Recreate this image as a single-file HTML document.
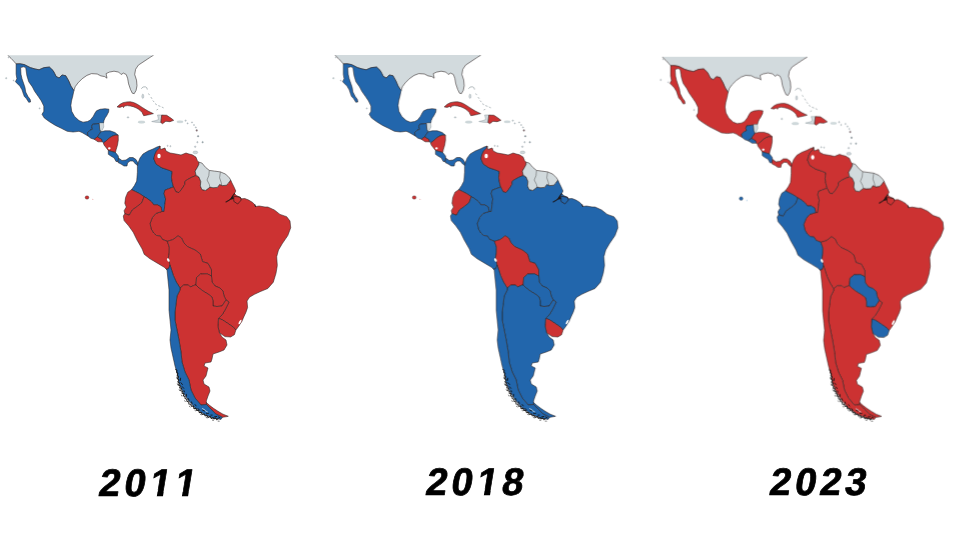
<!DOCTYPE html>
<html><head><meta charset="utf-8"><title>Latin America 2011 2018 2023</title>
<style>
html,body{margin:0;padding:0;background:#fff;}
body{width:960px;height:540px;overflow:hidden;position:relative;}
svg{position:absolute;left:0;top:0;}
</style></head><body>
<svg width="960" height="540" viewBox="0 0 960 540">
<defs><filter id="b" x="-2%" y="-2%" width="104%" height="104%"><feGaussianBlur stdDeviation="0.35"/></filter><clipPath id="cl"><rect x="-10" y="55.2" width="330" height="400"/></clipPath></defs>
<g filter="url(#b)">
<g transform="translate(0,0) scale(1,1)" clip-path="url(#cl)" stroke="#2a2020" stroke-opacity="0.85" stroke-width="0.65" stroke-linejoin="round">
<polygon fill="#d2dadd" points="3,50 158,50 153.4,55.3 149.7,57.6 144,61.4 138.4,65.1 135.6,69.3 134.7,74.5 136.5,80.1 137,85.7 136.1,90.4 134.2,93.7 132.3,93.2 130.5,89.5 128.6,83.9 127.6,78.2 126.2,74.5 123.4,73.1 121.1,74.5 118.7,72.1 114,71.2 109.4,72.1 106.1,73.6 107,78.2 104.7,76.6 100.9,75.9 97.2,74 91.6,73.6 86.9,75.4 82.2,78.7 78,82.9 75.2,86.7 73.9,90.6 70.9,86.1 68.7,80.9 65.7,75.7 62,75 59.1,78 56.1,76.5 54.8,73.8 53.1,70.6 49.4,67.1 44.3,67.6 41.7,68.6 39.1,69.8 35,69 30.2,67.6 24.3,64.6 20,63.8 16.1,63.9 14.2,61.7 11,58.3 7.5,55"/>
<polygon fill="#2266ac" points="16.1,63.9 20,63.8 24.3,64.6 30.2,67.6 35,69 39.1,69.8 41.7,68.6 44.3,67.6 49.4,67.1 53.1,70.6 54.8,73.8 56.1,76.5 59.1,78 62,75 65.7,75.7 68.7,80.9 70.9,86.1 73.9,90.6 72.8,96 71.5,101 70.9,105.4 71.7,111.3 74.6,116.5 79,120.6 83,122.2 87.5,121.5 90.4,120 93.3,116.3 95,113 96.5,110.8 100,109.3 105,108.7 108.9,109.2 108.6,112 106.5,116 105.2,117.8 104,120.5 103.5,123 100,123 99.2,123.5 92.5,124.3 91.7,126.8 92.5,129.3 90,130.2 87.5,132.7 88,136 85,134.3 82,132.5 79,131.3 73.1,132 67.2,131.3 61.3,128.3 55.4,125.4 49.4,121.7 44.3,118 42,114.3 43.8,111.3 43.8,106.1 41.3,100.9 38.3,96.5 34.6,91.3 32.4,86.9 28.7,81.7 26.9,75.7 25.7,67.6 23.5,66.8 20.6,67.6 21,74.3 22,78.7 23.5,83.1 25,87.6 25.7,92 28,96.5 30.2,99.4 30.6,102 28.7,102.3 26.5,98.7 24.3,96.5 23.5,94.3 22,89.8 19.8,86.1 17.6,83.9 15.4,81.7 16.9,78.7 16.1,74.3"/>
<polygon fill="#d2dadd" stroke="#7f8c92" stroke-width="0.5" points="100,123 103.5,123 103.8,127 102,130.5 100.8,131.8 99.7,129.3 99.2,123.5"/>
<polygon fill="#2266ac" points="92.5,124.3 99.2,123.5 99.7,129.3 100.8,131.8 99.2,134.3 97.5,136.8 94.2,139.3 90.8,138.2 88,136 87.5,132.7 90,130.2 92.5,129.3 91.7,126.8"/>
<polygon fill="#cc3333" points="97.5,136.8 101.7,139.3 102.5,141.8 98,141.8 94.2,139.3"/>
<polygon fill="#2266ac" points="100.8,131.8 105,130.8 110,130.8 115,132.5 118.2,135.2 115,135.2 112,136.3 109,138.3 106,141 103.5,143 102.5,141.8 101.7,139.3 97.5,136.8 99.2,134.3"/>
<polygon fill="#cc3333" points="103.5,143 106,141 109,138.3 112,136.3 115,135.2 118.2,135.2 118.3,140 117.5,145 116,150 115.5,152.5 111.7,151.5 108.3,150.5 106,147.5 104,145"/>
<polygon fill="#2266ac" points="108.3,150.5 111.7,151.5 115.5,152.5 118.3,156 118.5,159 118,161.5 116,161.5 114.2,158 110.8,156 108.3,154.3"/>
<polygon fill="#2266ac" points="118.5,158 122,160.5 126,160 129.5,157.5 133,157.5 136,159.5 138,163 137.5,165.5 135.5,164 133,161 130,161 127.5,163 127,166 124,166 121,164 118,162.5"/>
<polygon fill="#2266ac" points="138,163 140,158 143,154 148,151 153,149 157,147 160,146 159,148.5 156.5,151 154.6,155 153.9,158.9 156,164 161.9,167.8 168.5,170 172.2,171.5 171.5,177.4 172.2,181.9 173.5,187 168.5,188.8 164.8,190.3 164.1,193.7 165.6,198.9 164.8,204.8 164.1,211.5 161.9,211.5 161.1,207 157.4,204.8 153.7,204.8 151.5,201.9 147.8,198.9 144.1,196.7 139.6,193.7 135.2,191.5 131.5,189.7 134.4,185.6 136.7,181.1 137.4,172.2 137.4,166.3"/>
<polygon fill="#cc3333" points="160,146 160.5,149.5 165,148 166,151 170,153 176,154 181,155 186,153 189,154 192.2,154.8 195.9,157 197.4,160.7 198.9,162.2 198.9,164.4 197.4,167.4 195.2,171.1 195.9,174.8 196,175.6 192.2,177 187.8,179.3 184.8,181.5 184.8,184.4 181.9,188.9 178.9,192.6 175.9,191.9 173.5,187 172.2,181.9 171.5,177.4 172.2,171.5 168.5,170 161.9,167.8 156,164 153.9,158.9 154.6,155 156.5,151 159,148.5"/>
<polygon fill="#cc3333" points="230.7,180 232,183 234,187 235.8,191 234.5,193.6 236.4,195.6 240.3,197.3 241.6,198.8 244.8,198.5 248.7,200.1 252.6,202.4 254.6,204.6 255.5,206.5 259.1,206 265,207 267.8,207 274.4,210 280,214.4 286.7,216.7 290,221 290.7,227.8 287.8,235.6 282.5,243.3 278.5,250 276.7,256.7 277.3,265.6 276,273.3 273.3,282.2 267.8,288.5 261,291.3 254.5,294.3 249.5,297.2 247,301 247.6,307.5 246,312.2 243.9,316.7 241.8,321.5 238.4,326.7 235.9,330 233.4,327.2 227.8,323.4 222.2,319.7 218.4,318.4 222,315 225,310 227,306 229,302 226,300 224,296 223,291 220,288 215,286 212,282 211.5,276 211.5,270 208,263.4 202.5,261.6 200.3,254 195,250 187.5,246.6 183.8,242.8 181.5,238 178,235.8 173,239.6 167.3,241.3 162.3,239.4 160.4,236.1 156.5,235.5 153.5,233 151.2,229 150,223.5 152.4,217.5 155.9,213.4 161.9,211.5 164.1,211.5 164.8,204.8 165.6,198.9 164.1,193.7 164.8,190.3 168.5,188.8 173.5,187 175.9,191.9 178.9,192.6 181.9,188.9 184.8,184.4 184.8,181.5 187.8,179.3 192.2,177 196,175.6 198.9,177 200.8,181.5 200.4,185.9 201.9,189.6 205.6,190.4 210,187.1 213,187.7 217.4,187.4 219.6,184.4 222.6,185.6 226.3,185.2 228.5,183 230.7,180"/>
<polygon fill="#d2dadd" points="198.9,162.2 201.9,163 205.6,167.4 209.3,170.4 214.4,171.1 220.4,171.9 225.6,174.1 229.3,177.8 230.7,180 228.5,183 226.3,185.2 222.6,185.6 219.6,184.4 217.4,187.4 213,187.7 210,187.1 205.6,190.4 201.9,189.6 200.4,185.9 200.8,181.5 198.9,177 195.9,174.8 195.2,171.1 197.4,167.4 198.9,164.4"/>
<polygon fill="#cc3333" points="131.5,189.7 135.2,191.5 139.6,193.7 144.1,196.7 143.3,198.9 141.9,202.6 137.4,206.3 132.2,210 129.3,215.2 124.8,213.7 124.1,210.7 126.3,207 124.8,203.3 125.6,197.4 127.8,192.2"/>
<polygon fill="#cc3333" points="124.8,213.7 129.3,215.2 132.2,210 137.4,206.3 141.9,202.6 143.3,198.9 144.1,196.7 147.8,198.9 151.5,201.9 153.7,204.8 157.4,204.8 161.1,207 161.9,211.5 155.9,213.4 152.4,217.5 150,223.5 151.2,229 153.5,233 156.5,235.5 160.4,236.1 162.3,239.4 167.3,241.3 169.3,247 169.2,253 168.4,257.8 170,265 168.5,268.8 166.2,269.2 164.3,267.3 157.8,263.4 150,258.8 144.2,254.3 142.2,249.1 137,240 133.2,232.2 128.6,225.8 124.1,220.6 123.3,216"/>
<polygon fill="#cc3333" points="178,235.8 173,239.6 167.3,241.3 169.3,247 169.2,253 168.4,257.8 170,265 173.4,275.6 176.3,282 180,288 183.8,285 188.4,285 190.3,287 195,285 196,285 196.5,277.5 200.6,274 207.2,273.8 211.5,276 211.5,270 208,263.4 202.5,261.6 200.3,254 195,250 187.5,246.6 183.8,242.8 181.5,238"/>
<polygon fill="#cc3333" points="196,285 196.5,277.5 200.6,274 207.2,273.8 211.5,276 212,282 215,286 220,288 223,291 224,296 226,300 224,303 222,306 217,306.5 213,306 213,301 212,297 208,294 203,291 199,288"/>
<polygon fill="#cc3333" points="218.4,318.4 222.2,319.7 227.8,323.4 233.4,327.2 235.9,330 234.4,334.7 230.6,337 225,336.6 219.4,332.8 217.9,326.3"/>
<polygon fill="#cc3333" points="180,288 183.8,285 188.4,285 190.3,287 195,285 196,285 199,288 203,291 208,294 212,297 213,301 213,306 217,306.5 222,306 224,303 226,300 229,302 227,306 225,310 222,315 218.4,318.4 217.9,326.3 219.4,332.8 222,337 226,340 227,345 224,350 219,352 213,354 212,359 211,362 205,363 204,366 208,368 207,372 206,376 203,380 204,384 209,387 210,391 208,396 206.3,401 206.5,404.5 201,405 195,398 191,390 189,380 185,372 182,362 181,352 179,340 177,330 175,320 175,312 176,304 177,296 180,290"/>
<polygon fill="#cc3333" points="206.3,402.5 209.5,405.3 213.5,408.3 218,411.3 223,414.2 228.3,416.3 224.5,417 222.4,417.3 215.9,414 210.7,408.9 206.5,404.5"/>
<polygon fill="#2266ac" points="166.2,269.2 168.5,268.8 170,265 173.4,275.6 176.3,282 180,288 180,290 177,296 176,304 175,312 175,320 177,330 179,340 181,352 182,362 185,372 189,380 191,390 195,398 201,405 206.5,404.5 210.7,408.9 215.9,414 222.4,417.3 221,419.4 213,418 203.5,413.8 195,407.8 188,400 183,392 179,383 177.4,374 175,366 173,357 171,348 170,340 171,330 170,320 169,310 169,300 169,290 168,280 167,270"/>
<polygon fill="#cc3333" points="117,106.9 120,104.3 123,102.7 127,101.9 130.4,101.8 133.5,102.5 136.3,103.7 139.3,105.5 142.2,107.4 145.2,109.3 148.1,111.1 151,112.5 153.4,113.6 149.6,114.6 146.5,115.2 143.7,115.7 142.8,114 142.2,112.6 140.5,110.8 138.5,109.2 136,107.8 133.3,106.7 130.4,106 127.4,105.6 124.5,106 123.5,107.6 122.3,106.4 120,107.4"/>
<polygon fill="#d2dadd" stroke="#7f8c92" stroke-width="0.5" points="157.5,115 161.7,115 161.3,118.3 160.8,122.5 156,122.3 151.7,121.5 156,120.5 158.5,119.5 158,117"/>
<polygon fill="#cc3333" points="161.7,115 166.7,115.3 170.8,118 173.7,120.3 170,121.7 165.8,121.3 162.5,123.7 160.8,122.5 161.3,118.3"/>

<ellipse cx="159" cy="156" rx="1.7" ry="2.2" fill="#fff" stroke="none"/>
<ellipse cx="168.3" cy="260" rx="1.2" ry="1.9" fill="#f4f4f4" stroke="none" transform="rotate(-28 168.3 260)"/>
<ellipse cx="109.3" cy="148.3" rx="1.3" ry="1.1" fill="#fff" stroke="none"/>
<ellipse cx="240" cy="322" rx="0.9" ry="2.6" fill="#fff" stroke="none" transform="rotate(30 240 322)"/>
<ellipse cx="141.5" cy="122.1" rx="3.5" ry="1.2" fill="#d2dbde" stroke="#9aa" stroke-width="0.3"/>
<ellipse cx="180" cy="121.8" rx="3.2" ry="1" fill="#d2dbde" stroke="#9aa" stroke-width="0.3"/>
<path d="M209.3,170.4 L208.8,175.6 L207,180 L209.3,184.4 L209.8,187.1 M220.4,171.9 L219.6,177.8 L221.1,182.2 L221.8,185.4" fill="none" stroke="#444" stroke-width="0.55"/>
<path d="M226,202 L229,200.2 L231.2,198.6 L232.5,196.2 L234.5,193.6" fill="none" stroke="#1c1414" stroke-width="1.1" stroke-linecap="round"/>
<path d="M230.5,199.3 L232.8,196 L233.4,198.8 Z" fill="#1c1414" stroke="#1c1414" stroke-width="0.8"/>
<path d="M233.8,196.2 L240.3,197.3 L241.3,200 L237.7,204 L233.8,201.4 Z" fill="none" stroke="#2a1a1a" stroke-width="0.8" stroke-opacity="0.85"/>
<path d="M254.8,204.3 l0.8,2.6" fill="none" stroke="#1c1414" stroke-width="1"/>
<path d="M175.4,369.2 L177.0,370.4 L176.6,372.2 L177.9,373.6 L177.2,375.3 L178.6,376.8 L177.3,378.6 L179.1,380.0 L177.8,381.8 L179.5,383.1 L178.5,385.0 L180.2,386.0 L179.6,387.8 L181.6,388.6 L180.6,390.6 L182.4,391.5 L182.1,393.2 L184.0,393.8 L183.3,395.7 L184.9,396.4 L185.1,398.4 L186.7,399.4 L187.0,401.3 L188.8,401.9 L188.9,404.0 L190.9,404.3 L191.4,406.3 L193.6,406.1 L193.8,408.5 L196.0,408.3 L196.6,410.4 L198.6,410.5 L199.3,412.4 L201.3,412.4 L202.0,414.4 L204.1,414.0 L205.1,415.7 L207.0,415.5 L208.1,417.4 L210.2,416.6 L211.4,418.5 L213.0,417.6 L214.1,418.9 L215.6,418.0 L216.8,419.7 L218.4,418.3 " fill="none" stroke="#121212" stroke-width="1.05" stroke-opacity="0.9" stroke-linejoin="round"/>
<path d="M180.6,378.2 l-0.2,2.2 M180.9,382.7 l1.5,1.8 M182.3,386.7 l1.4,1.6 M184.0,390.7 l0.4,1.2 M186.3,394.3 l0.2,1.9 M188.1,398.4 l1.0,1.8 M191.4,401.8 l0.7,1.6 M195.0,404.5 l1.1,1.4 M198.0,408.5 l1.4,1.5 M202.7,410.2 l2.0,0.8 M206.4,413.3 l2.0,0.1 M210.8,415.1 l1.4,-0.0 M214.6,416.8 l2.1,-0.3 M218.5,417.0 l1.5,0.8 " fill="none" stroke="#121212" stroke-width="1.0" stroke-opacity="0.85" stroke-linecap="round"/>
<path d="M176.7,377.1 l0.2,1.1 M177.4,383.8 l0.3,1.1 M179.2,389.6 l0.4,1.0 M181.4,395.1 l0.5,1.0 M184.7,400.7 l0.6,0.9 M189.3,406.2 l0.8,0.7 M194.7,410.1 l0.9,0.7 M200.2,414.1 l0.9,0.6 M206.2,417.5 l1.0,0.4 M212.4,420.1 l1.1,0.2 M218.1,421.1 l1.1,0.1 " fill="none" stroke="#222" stroke-width="0.8" stroke-opacity="0.75" stroke-linecap="round"/>
<path d="M202.5,408.6 l2.4,1.4 M205.4,410.8 l2,1" fill="none" stroke="#dfe8ee" stroke-width="0.9" stroke-linecap="round"/>
<g fill="#cfd8db" stroke="#77848a" stroke-width="0.35" stroke-opacity="0.8">
<path d="M141.3,88.8 q1.2,-2.6 4,-2 q2.2,0.7 2,2.8" fill="none" stroke-width="0.7"/>
<ellipse cx="142.8" cy="96.3" rx="1" ry="2.2"/>
<path d="M148.5,93.5 l1,1.6 M150.8,97 l1.2,1.8 M152.8,100.5 l1.4,1.6 M155,103.6 l1.8,1.2 M158.2,105.6 l2.2,0.8 M161.8,107 l1.8,0.9 M156.5,110 l1.6,-0.8" fill="none" stroke-width="0.7"/>
<ellipse cx="128" cy="117.4" rx="0.9" ry="0.7"/>
<circle cx="185.6" cy="120.6" r="0.7"/><circle cx="187.6" cy="123.4" r="0.6"/>
<circle cx="192" cy="122.4" r="0.6"/><circle cx="194" cy="125" r="0.6"/><circle cx="195.8" cy="127.4" r="0.6"/>
<circle cx="196.7" cy="130.4" r="0.9" fill="#8f6f72"/><circle cx="198.1" cy="136.3" r="0.8" fill="#7f8d93"/><circle cx="197.4" cy="142.2" r="0.7"/><circle cx="202.6" cy="142.2" r="0.8" fill="#9aa7ad"/><circle cx="195.2" cy="146.7" r="0.8"/>
<ellipse cx="195.4" cy="152.4" rx="2.4" ry="1.4"/>
<circle cx="167.6" cy="145.8" r="0.6"/><circle cx="170.4" cy="146.2" r="0.6"/>
<circle cx="6.2" cy="78.2" r="0.7"/><circle cx="39.6" cy="108.4" r="0.6"/><circle cx="8.5" cy="57.5" r="0.5"/><circle cx="13.5" cy="80.5" r="0.5"/>
</g>
<ellipse cx="87" cy="197.5" rx="1.9" ry="1.7" fill="#cc3333" stroke="#333" stroke-width="0.4"/><circle cx="92.8" cy="199.4" r="0.6" fill="#cc3333" fill-opacity="0.35" stroke="none"/>
</g>
<g transform="translate(327.2,0) scale(1,1)" clip-path="url(#cl)" stroke="#2a2020" stroke-opacity="0.85" stroke-width="0.65" stroke-linejoin="round">
<polygon fill="#d2dadd" points="3,50 158,50 153.4,55.3 149.7,57.6 144,61.4 138.4,65.1 135.6,69.3 134.7,74.5 136.5,80.1 137,85.7 136.1,90.4 134.2,93.7 132.3,93.2 130.5,89.5 128.6,83.9 127.6,78.2 126.2,74.5 123.4,73.1 121.1,74.5 118.7,72.1 114,71.2 109.4,72.1 106.1,73.6 107,78.2 104.7,76.6 100.9,75.9 97.2,74 91.6,73.6 86.9,75.4 82.2,78.7 78,82.9 75.2,86.7 73.9,90.6 70.9,86.1 68.7,80.9 65.7,75.7 62,75 59.1,78 56.1,76.5 54.8,73.8 53.1,70.6 49.4,67.1 44.3,67.6 41.7,68.6 39.1,69.8 35,69 30.2,67.6 24.3,64.6 20,63.8 16.1,63.9 14.2,61.7 11,58.3 7.5,55"/>
<polygon fill="#2266ac" points="16.1,63.9 20,63.8 24.3,64.6 30.2,67.6 35,69 39.1,69.8 41.7,68.6 44.3,67.6 49.4,67.1 53.1,70.6 54.8,73.8 56.1,76.5 59.1,78 62,75 65.7,75.7 68.7,80.9 70.9,86.1 73.9,90.6 72.8,96 71.5,101 70.9,105.4 71.7,111.3 74.6,116.5 79,120.6 83,122.2 87.5,121.5 90.4,120 93.3,116.3 95,113 96.5,110.8 100,109.3 105,108.7 108.9,109.2 108.6,112 106.5,116 105.2,117.8 104,120.5 103.5,123 100,123 99.2,123.5 92.5,124.3 91.7,126.8 92.5,129.3 90,130.2 87.5,132.7 88,136 85,134.3 82,132.5 79,131.3 73.1,132 67.2,131.3 61.3,128.3 55.4,125.4 49.4,121.7 44.3,118 42,114.3 43.8,111.3 43.8,106.1 41.3,100.9 38.3,96.5 34.6,91.3 32.4,86.9 28.7,81.7 26.9,75.7 25.7,67.6 23.5,66.8 20.6,67.6 21,74.3 22,78.7 23.5,83.1 25,87.6 25.7,92 28,96.5 30.2,99.4 30.6,102 28.7,102.3 26.5,98.7 24.3,96.5 23.5,94.3 22,89.8 19.8,86.1 17.6,83.9 15.4,81.7 16.9,78.7 16.1,74.3"/>
<polygon fill="#d2dadd" stroke="#7f8c92" stroke-width="0.5" points="100,123 103.5,123 103.8,127 102,130.5 100.8,131.8 99.7,129.3 99.2,123.5"/>
<polygon fill="#2266ac" points="92.5,124.3 99.2,123.5 99.7,129.3 100.8,131.8 99.2,134.3 97.5,136.8 94.2,139.3 90.8,138.2 88,136 87.5,132.7 90,130.2 92.5,129.3 91.7,126.8"/>
<polygon fill="#cc3333" points="97.5,136.8 101.7,139.3 102.5,141.8 98,141.8 94.2,139.3"/>
<polygon fill="#2266ac" points="100.8,131.8 105,130.8 110,130.8 115,132.5 118.2,135.2 115,135.2 112,136.3 109,138.3 106,141 103.5,143 102.5,141.8 101.7,139.3 97.5,136.8 99.2,134.3"/>
<polygon fill="#cc3333" points="103.5,143 106,141 109,138.3 112,136.3 115,135.2 118.2,135.2 118.3,140 117.5,145 116,150 115.5,152.5 111.7,151.5 108.3,150.5 106,147.5 104,145"/>
<polygon fill="#2266ac" points="108.3,150.5 111.7,151.5 115.5,152.5 118.3,156 118.5,159 118,161.5 116,161.5 114.2,158 110.8,156 108.3,154.3"/>
<polygon fill="#2266ac" points="118.5,158 122,160.5 126,160 129.5,157.5 133,157.5 136,159.5 138,163 137.5,165.5 135.5,164 133,161 130,161 127.5,163 127,166 124,166 121,164 118,162.5"/>
<polygon fill="#2266ac" points="138,163 140,158 143,154 148,151 153,149 157,147 160,146 159,148.5 156.5,151 154.6,155 153.9,158.9 156,164 161.9,167.8 168.5,170 172.2,171.5 171.5,177.4 172.2,181.9 173.5,187 168.5,188.8 164.8,190.3 164.1,193.7 165.6,198.9 164.8,204.8 164.1,211.5 161.9,211.5 161.1,207 157.4,204.8 153.7,204.8 151.5,201.9 147.8,198.9 144.1,196.7 139.6,193.7 135.2,191.5 131.5,189.7 134.4,185.6 136.7,181.1 137.4,172.2 137.4,166.3"/>
<polygon fill="#cc3333" points="160,146 160.5,149.5 165,148 166,151 170,153 176,154 181,155 186,153 189,154 192.2,154.8 195.9,157 197.4,160.7 198.9,162.2 198.9,164.4 197.4,167.4 195.2,171.1 195.9,174.8 196,175.6 192.2,177 187.8,179.3 184.8,181.5 184.8,184.4 181.9,188.9 178.9,192.6 175.9,191.9 173.5,187 172.2,181.9 171.5,177.4 172.2,171.5 168.5,170 161.9,167.8 156,164 153.9,158.9 154.6,155 156.5,151 159,148.5"/>
<polygon fill="#2266ac" points="230.7,180 232,183 234,187 235.8,191 234.5,193.6 236.4,195.6 240.3,197.3 241.6,198.8 244.8,198.5 248.7,200.1 252.6,202.4 254.6,204.6 255.5,206.5 259.1,206 265,207 267.8,207 274.4,210 280,214.4 286.7,216.7 290,221 290.7,227.8 287.8,235.6 282.5,243.3 278.5,250 276.7,256.7 277.3,265.6 276,273.3 273.3,282.2 267.8,288.5 261,291.3 254.5,294.3 249.5,297.2 247,301 247.6,307.5 246,312.2 243.9,316.7 241.8,321.5 238.4,326.7 235.9,330 233.4,327.2 227.8,323.4 222.2,319.7 218.4,318.4 222,315 225,310 227,306 229,302 226,300 224,296 223,291 220,288 215,286 212,282 211.5,276 211.5,270 208,263.4 202.5,261.6 200.3,254 195,250 187.5,246.6 183.8,242.8 181.5,238 178,235.8 173,239.6 167.3,241.3 162.3,239.4 160.4,236.1 156.5,235.5 153.5,233 151.2,229 150,223.5 152.4,217.5 155.9,213.4 161.9,211.5 164.1,211.5 164.8,204.8 165.6,198.9 164.1,193.7 164.8,190.3 168.5,188.8 173.5,187 175.9,191.9 178.9,192.6 181.9,188.9 184.8,184.4 184.8,181.5 187.8,179.3 192.2,177 196,175.6 198.9,177 200.8,181.5 200.4,185.9 201.9,189.6 205.6,190.4 210,187.1 213,187.7 217.4,187.4 219.6,184.4 222.6,185.6 226.3,185.2 228.5,183 230.7,180"/>
<polygon fill="#d2dadd" points="198.9,162.2 201.9,163 205.6,167.4 209.3,170.4 214.4,171.1 220.4,171.9 225.6,174.1 229.3,177.8 230.7,180 228.5,183 226.3,185.2 222.6,185.6 219.6,184.4 217.4,187.4 213,187.7 210,187.1 205.6,190.4 201.9,189.6 200.4,185.9 200.8,181.5 198.9,177 195.9,174.8 195.2,171.1 197.4,167.4 198.9,164.4"/>
<polygon fill="#cc3333" points="131.5,189.7 135.2,191.5 139.6,193.7 144.1,196.7 143.3,198.9 141.9,202.6 137.4,206.3 132.2,210 129.3,215.2 124.8,213.7 124.1,210.7 126.3,207 124.8,203.3 125.6,197.4 127.8,192.2"/>
<polygon fill="#2266ac" points="124.8,213.7 129.3,215.2 132.2,210 137.4,206.3 141.9,202.6 143.3,198.9 144.1,196.7 147.8,198.9 151.5,201.9 153.7,204.8 157.4,204.8 161.1,207 161.9,211.5 155.9,213.4 152.4,217.5 150,223.5 151.2,229 153.5,233 156.5,235.5 160.4,236.1 162.3,239.4 167.3,241.3 169.3,247 169.2,253 168.4,257.8 170,265 168.5,268.8 166.2,269.2 164.3,267.3 157.8,263.4 150,258.8 144.2,254.3 142.2,249.1 137,240 133.2,232.2 128.6,225.8 124.1,220.6 123.3,216"/>
<polygon fill="#cc3333" points="178,235.8 173,239.6 167.3,241.3 169.3,247 169.2,253 168.4,257.8 170,265 173.4,275.6 176.3,282 180,288 183.8,285 188.4,285 190.3,287 195,285 196,285 196.5,277.5 200.6,274 207.2,273.8 211.5,276 211.5,270 208,263.4 202.5,261.6 200.3,254 195,250 187.5,246.6 183.8,242.8 181.5,238"/>
<polygon fill="#2266ac" points="196,285 196.5,277.5 200.6,274 207.2,273.8 211.5,276 212,282 215,286 220,288 223,291 224,296 226,300 224,303 222,306 217,306.5 213,306 213,301 212,297 208,294 203,291 199,288"/>
<polygon fill="#cc3333" points="218.4,318.4 222.2,319.7 227.8,323.4 233.4,327.2 235.9,330 234.4,334.7 230.6,337 225,336.6 219.4,332.8 217.9,326.3"/>
<polygon fill="#2266ac" points="180,288 183.8,285 188.4,285 190.3,287 195,285 196,285 199,288 203,291 208,294 212,297 213,301 213,306 217,306.5 222,306 224,303 226,300 229,302 227,306 225,310 222,315 218.4,318.4 217.9,326.3 219.4,332.8 222,337 226,340 227,345 224,350 219,352 213,354 212,359 211,362 205,363 204,366 208,368 207,372 206,376 203,380 204,384 209,387 210,391 208,396 206.3,401 206.5,404.5 201,405 195,398 191,390 189,380 185,372 182,362 181,352 179,340 177,330 175,320 175,312 176,304 177,296 180,290"/>
<polygon fill="#2266ac" points="206.3,402.5 209.5,405.3 213.5,408.3 218,411.3 223,414.2 228.3,416.3 224.5,417 222.4,417.3 215.9,414 210.7,408.9 206.5,404.5"/>
<polygon fill="#2266ac" points="166.2,269.2 168.5,268.8 170,265 173.4,275.6 176.3,282 180,288 180,290 177,296 176,304 175,312 175,320 177,330 179,340 181,352 182,362 185,372 189,380 191,390 195,398 201,405 206.5,404.5 210.7,408.9 215.9,414 222.4,417.3 221,419.4 213,418 203.5,413.8 195,407.8 188,400 183,392 179,383 177.4,374 175,366 173,357 171,348 170,340 171,330 170,320 169,310 169,300 169,290 168,280 167,270"/>
<polygon fill="#cc3333" points="117,106.9 120,104.3 123,102.7 127,101.9 130.4,101.8 133.5,102.5 136.3,103.7 139.3,105.5 142.2,107.4 145.2,109.3 148.1,111.1 151,112.5 153.4,113.6 149.6,114.6 146.5,115.2 143.7,115.7 142.8,114 142.2,112.6 140.5,110.8 138.5,109.2 136,107.8 133.3,106.7 130.4,106 127.4,105.6 124.5,106 123.5,107.6 122.3,106.4 120,107.4"/>
<polygon fill="#d2dadd" stroke="#7f8c92" stroke-width="0.5" points="157.5,115 161.7,115 161.3,118.3 160.8,122.5 156,122.3 151.7,121.5 156,120.5 158.5,119.5 158,117"/>
<polygon fill="#cc3333" points="161.7,115 166.7,115.3 170.8,118 173.7,120.3 170,121.7 165.8,121.3 162.5,123.7 160.8,122.5 161.3,118.3"/>

<ellipse cx="159" cy="156" rx="1.7" ry="2.2" fill="#fff" stroke="none"/>
<ellipse cx="168.3" cy="260" rx="1.2" ry="1.9" fill="#f4f4f4" stroke="none" transform="rotate(-28 168.3 260)"/>
<ellipse cx="109.3" cy="148.3" rx="1.3" ry="1.1" fill="#fff" stroke="none"/>
<ellipse cx="240" cy="322" rx="0.9" ry="2.6" fill="#fff" stroke="none" transform="rotate(30 240 322)"/>
<ellipse cx="141.5" cy="122.1" rx="3.5" ry="1.2" fill="#d2dbde" stroke="#9aa" stroke-width="0.3"/>
<ellipse cx="180" cy="121.8" rx="3.2" ry="1" fill="#d2dbde" stroke="#9aa" stroke-width="0.3"/>
<path d="M209.3,170.4 L208.8,175.6 L207,180 L209.3,184.4 L209.8,187.1 M220.4,171.9 L219.6,177.8 L221.1,182.2 L221.8,185.4" fill="none" stroke="#444" stroke-width="0.55"/>
<path d="M226,202 L229,200.2 L231.2,198.6 L232.5,196.2 L234.5,193.6" fill="none" stroke="#1c1414" stroke-width="1.1" stroke-linecap="round"/>
<path d="M230.5,199.3 L232.8,196 L233.4,198.8 Z" fill="#1c1414" stroke="#1c1414" stroke-width="0.8"/>
<path d="M233.8,196.2 L240.3,197.3 L241.3,200 L237.7,204 L233.8,201.4 Z" fill="none" stroke="#2a1a1a" stroke-width="0.8" stroke-opacity="0.85"/>
<path d="M254.8,204.3 l0.8,2.6" fill="none" stroke="#1c1414" stroke-width="1"/>
<path d="M175.4,369.2 L177.0,370.4 L176.6,372.2 L177.9,373.6 L177.2,375.3 L178.6,376.8 L177.3,378.6 L179.1,380.0 L177.8,381.8 L179.5,383.1 L178.5,385.0 L180.2,386.0 L179.6,387.8 L181.6,388.6 L180.6,390.6 L182.4,391.5 L182.1,393.2 L184.0,393.8 L183.3,395.7 L184.9,396.4 L185.1,398.4 L186.7,399.4 L187.0,401.3 L188.8,401.9 L188.9,404.0 L190.9,404.3 L191.4,406.3 L193.6,406.1 L193.8,408.5 L196.0,408.3 L196.6,410.4 L198.6,410.5 L199.3,412.4 L201.3,412.4 L202.0,414.4 L204.1,414.0 L205.1,415.7 L207.0,415.5 L208.1,417.4 L210.2,416.6 L211.4,418.5 L213.0,417.6 L214.1,418.9 L215.6,418.0 L216.8,419.7 L218.4,418.3 " fill="none" stroke="#121212" stroke-width="1.05" stroke-opacity="0.9" stroke-linejoin="round"/>
<path d="M180.6,378.2 l-0.2,2.2 M180.9,382.7 l1.5,1.8 M182.3,386.7 l1.4,1.6 M184.0,390.7 l0.4,1.2 M186.3,394.3 l0.2,1.9 M188.1,398.4 l1.0,1.8 M191.4,401.8 l0.7,1.6 M195.0,404.5 l1.1,1.4 M198.0,408.5 l1.4,1.5 M202.7,410.2 l2.0,0.8 M206.4,413.3 l2.0,0.1 M210.8,415.1 l1.4,-0.0 M214.6,416.8 l2.1,-0.3 M218.5,417.0 l1.5,0.8 " fill="none" stroke="#121212" stroke-width="1.0" stroke-opacity="0.85" stroke-linecap="round"/>
<path d="M176.7,377.1 l0.2,1.1 M177.4,383.8 l0.3,1.1 M179.2,389.6 l0.4,1.0 M181.4,395.1 l0.5,1.0 M184.7,400.7 l0.6,0.9 M189.3,406.2 l0.8,0.7 M194.7,410.1 l0.9,0.7 M200.2,414.1 l0.9,0.6 M206.2,417.5 l1.0,0.4 M212.4,420.1 l1.1,0.2 M218.1,421.1 l1.1,0.1 " fill="none" stroke="#222" stroke-width="0.8" stroke-opacity="0.75" stroke-linecap="round"/>
<path d="M202.5,408.6 l2.4,1.4 M205.4,410.8 l2,1" fill="none" stroke="#dfe8ee" stroke-width="0.9" stroke-linecap="round"/>
<g fill="#cfd8db" stroke="#77848a" stroke-width="0.35" stroke-opacity="0.8">
<path d="M141.3,88.8 q1.2,-2.6 4,-2 q2.2,0.7 2,2.8" fill="none" stroke-width="0.7"/>
<ellipse cx="142.8" cy="96.3" rx="1" ry="2.2"/>
<path d="M148.5,93.5 l1,1.6 M150.8,97 l1.2,1.8 M152.8,100.5 l1.4,1.6 M155,103.6 l1.8,1.2 M158.2,105.6 l2.2,0.8 M161.8,107 l1.8,0.9 M156.5,110 l1.6,-0.8" fill="none" stroke-width="0.7"/>
<ellipse cx="128" cy="117.4" rx="0.9" ry="0.7"/>
<circle cx="185.6" cy="120.6" r="0.7"/><circle cx="187.6" cy="123.4" r="0.6"/>
<circle cx="192" cy="122.4" r="0.6"/><circle cx="194" cy="125" r="0.6"/><circle cx="195.8" cy="127.4" r="0.6"/>
<circle cx="196.7" cy="130.4" r="0.9" fill="#8f6f72"/><circle cx="198.1" cy="136.3" r="0.8" fill="#7f8d93"/><circle cx="197.4" cy="142.2" r="0.7"/><circle cx="202.6" cy="142.2" r="0.8" fill="#9aa7ad"/><circle cx="195.2" cy="146.7" r="0.8"/>
<ellipse cx="195.4" cy="152.4" rx="2.4" ry="1.4"/>
<circle cx="167.6" cy="145.8" r="0.6"/><circle cx="170.4" cy="146.2" r="0.6"/>
<circle cx="6.2" cy="78.2" r="0.7"/><circle cx="39.6" cy="108.4" r="0.6"/><circle cx="8.5" cy="57.5" r="0.5"/><circle cx="13.5" cy="80.5" r="0.5"/>
</g>
<ellipse cx="87" cy="197.5" rx="1.9" ry="1.7" fill="#cc3333" stroke="#333" stroke-width="0.4"/><circle cx="92.8" cy="199.4" r="0.6" fill="#cc3333" fill-opacity="0.35" stroke="none"/>
</g>
<g transform="translate(654.6,2.07) scale(0.994,0.99507)" clip-path="url(#cl)" stroke="#2a2020" stroke-opacity="0.85" stroke-width="0.65" stroke-linejoin="round">
<polygon fill="#d2dadd" points="3,50 158,50 153.4,55.3 149.7,57.6 144,61.4 138.4,65.1 135.6,69.3 134.7,74.5 136.5,80.1 137,85.7 136.1,90.4 134.2,93.7 132.3,93.2 130.5,89.5 128.6,83.9 127.6,78.2 126.2,74.5 123.4,73.1 121.1,74.5 118.7,72.1 114,71.2 109.4,72.1 106.1,73.6 107,78.2 104.7,76.6 100.9,75.9 97.2,74 91.6,73.6 86.9,75.4 82.2,78.7 78,82.9 75.2,86.7 73.9,90.6 70.9,86.1 68.7,80.9 65.7,75.7 62,75 59.1,78 56.1,76.5 54.8,73.8 53.1,70.6 49.4,67.1 44.3,67.6 41.7,68.6 39.1,69.8 35,69 30.2,67.6 24.3,64.6 20,63.8 16.1,63.9 14.2,61.7 11,58.3 7.5,55"/>
<polygon fill="#cc3333" points="16.1,63.9 20,63.8 24.3,64.6 30.2,67.6 35,69 39.1,69.8 41.7,68.6 44.3,67.6 49.4,67.1 53.1,70.6 54.8,73.8 56.1,76.5 59.1,78 62,75 65.7,75.7 68.7,80.9 70.9,86.1 73.9,90.6 72.8,96 71.5,101 70.9,105.4 71.7,111.3 74.6,116.5 79,120.6 83,122.2 87.5,121.5 90.4,120 93.3,116.3 95,113 96.5,110.8 100,109.3 105,108.7 108.9,109.2 108.6,112 106.5,116 105.2,117.8 104,120.5 103.5,123 100,123 99.2,123.5 92.5,124.3 91.7,126.8 92.5,129.3 90,130.2 87.5,132.7 88,136 85,134.3 82,132.5 79,131.3 73.1,132 67.2,131.3 61.3,128.3 55.4,125.4 49.4,121.7 44.3,118 42,114.3 43.8,111.3 43.8,106.1 41.3,100.9 38.3,96.5 34.6,91.3 32.4,86.9 28.7,81.7 26.9,75.7 25.7,67.6 23.5,66.8 20.6,67.6 21,74.3 22,78.7 23.5,83.1 25,87.6 25.7,92 28,96.5 30.2,99.4 30.6,102 28.7,102.3 26.5,98.7 24.3,96.5 23.5,94.3 22,89.8 19.8,86.1 17.6,83.9 15.4,81.7 16.9,78.7 16.1,74.3"/>
<polygon fill="#d2dadd" stroke="#7f8c92" stroke-width="0.5" points="100,123 103.5,123 103.8,127 102,130.5 100.8,131.8 99.7,129.3 99.2,123.5"/>
<polygon fill="#2266ac" points="92.5,124.3 99.2,123.5 99.7,129.3 100.8,131.8 99.2,134.3 97.5,136.8 94.2,139.3 90.8,138.2 88,136 87.5,132.7 90,130.2 92.5,129.3 91.7,126.8"/>
<polygon fill="#2266ac" points="97.5,136.8 101.7,139.3 102.5,141.8 98,141.8 94.2,139.3"/>
<polygon fill="#cc3333" points="100.8,131.8 105,130.8 110,130.8 115,132.5 118.2,135.2 115,135.2 112,136.3 109,138.3 106,141 103.5,143 102.5,141.8 101.7,139.3 97.5,136.8 99.2,134.3"/>
<polygon fill="#cc3333" points="103.5,143 106,141 109,138.3 112,136.3 115,135.2 118.2,135.2 118.3,140 117.5,145 116,150 115.5,152.5 111.7,151.5 108.3,150.5 106,147.5 104,145"/>
<polygon fill="#2266ac" points="108.3,150.5 111.7,151.5 115.5,152.5 118.3,156 118.5,159 118,161.5 116,161.5 114.2,158 110.8,156 108.3,154.3"/>
<polygon fill="#cc3333" points="118.5,158 122,160.5 126,160 129.5,157.5 133,157.5 136,159.5 138,163 137.5,165.5 135.5,164 133,161 130,161 127.5,163 127,166 124,166 121,164 118,162.5"/>
<polygon fill="#cc3333" points="138,163 140,158 143,154 148,151 153,149 157,147 160,146 159,148.5 156.5,151 154.6,155 153.9,158.9 156,164 161.9,167.8 168.5,170 172.2,171.5 171.5,177.4 172.2,181.9 173.5,187 168.5,188.8 164.8,190.3 164.1,193.7 165.6,198.9 164.8,204.8 164.1,211.5 161.9,211.5 161.1,207 157.4,204.8 153.7,204.8 151.5,201.9 147.8,198.9 144.1,196.7 139.6,193.7 135.2,191.5 131.5,189.7 134.4,185.6 136.7,181.1 137.4,172.2 137.4,166.3"/>
<polygon fill="#cc3333" points="160,146 160.5,149.5 165,148 166,151 170,153 176,154 181,155 186,153 189,154 192.2,154.8 195.9,157 197.4,160.7 198.9,162.2 198.9,164.4 197.4,167.4 195.2,171.1 195.9,174.8 196,175.6 192.2,177 187.8,179.3 184.8,181.5 184.8,184.4 181.9,188.9 178.9,192.6 175.9,191.9 173.5,187 172.2,181.9 171.5,177.4 172.2,171.5 168.5,170 161.9,167.8 156,164 153.9,158.9 154.6,155 156.5,151 159,148.5"/>
<polygon fill="#cc3333" points="230.7,180 232,183 234,187 235.8,191 234.5,193.6 236.4,195.6 240.3,197.3 241.6,198.8 244.8,198.5 248.7,200.1 252.6,202.4 254.6,204.6 255.5,206.5 259.1,206 265,207 267.8,207 274.4,210 280,214.4 286.7,216.7 290,221 290.7,227.8 287.8,235.6 282.5,243.3 278.5,250 276.7,256.7 277.3,265.6 276,273.3 273.3,282.2 267.8,288.5 261,291.3 254.5,294.3 249.5,297.2 247,301 247.6,307.5 246,312.2 243.9,316.7 241.8,321.5 238.4,326.7 235.9,330 233.4,327.2 227.8,323.4 222.2,319.7 218.4,318.4 222,315 225,310 227,306 229,302 226,300 224,296 223,291 220,288 215,286 212,282 211.5,276 211.5,270 208,263.4 202.5,261.6 200.3,254 195,250 187.5,246.6 183.8,242.8 181.5,238 178,235.8 173,239.6 167.3,241.3 162.3,239.4 160.4,236.1 156.5,235.5 153.5,233 151.2,229 150,223.5 152.4,217.5 155.9,213.4 161.9,211.5 164.1,211.5 164.8,204.8 165.6,198.9 164.1,193.7 164.8,190.3 168.5,188.8 173.5,187 175.9,191.9 178.9,192.6 181.9,188.9 184.8,184.4 184.8,181.5 187.8,179.3 192.2,177 196,175.6 198.9,177 200.8,181.5 200.4,185.9 201.9,189.6 205.6,190.4 210,187.1 213,187.7 217.4,187.4 219.6,184.4 222.6,185.6 226.3,185.2 228.5,183 230.7,180"/>
<polygon fill="#d2dadd" points="198.9,162.2 201.9,163 205.6,167.4 209.3,170.4 214.4,171.1 220.4,171.9 225.6,174.1 229.3,177.8 230.7,180 228.5,183 226.3,185.2 222.6,185.6 219.6,184.4 217.4,187.4 213,187.7 210,187.1 205.6,190.4 201.9,189.6 200.4,185.9 200.8,181.5 198.9,177 195.9,174.8 195.2,171.1 197.4,167.4 198.9,164.4"/>
<polygon fill="#2266ac" points="131.5,189.7 135.2,191.5 139.6,193.7 144.1,196.7 143.3,198.9 141.9,202.6 137.4,206.3 132.2,210 129.3,215.2 124.8,213.7 124.1,210.7 126.3,207 124.8,203.3 125.6,197.4 127.8,192.2"/>
<polygon fill="#2266ac" points="124.8,213.7 129.3,215.2 132.2,210 137.4,206.3 141.9,202.6 143.3,198.9 144.1,196.7 147.8,198.9 151.5,201.9 153.7,204.8 157.4,204.8 161.1,207 161.9,211.5 155.9,213.4 152.4,217.5 150,223.5 151.2,229 153.5,233 156.5,235.5 160.4,236.1 162.3,239.4 167.3,241.3 169.3,247 169.2,253 168.4,257.8 170,265 168.5,268.8 166.2,269.2 164.3,267.3 157.8,263.4 150,258.8 144.2,254.3 142.2,249.1 137,240 133.2,232.2 128.6,225.8 124.1,220.6 123.3,216"/>
<polygon fill="#cc3333" points="178,235.8 173,239.6 167.3,241.3 169.3,247 169.2,253 168.4,257.8 170,265 173.4,275.6 176.3,282 180,288 183.8,285 188.4,285 190.3,287 195,285 196,285 196.5,277.5 200.6,274 207.2,273.8 211.5,276 211.5,270 208,263.4 202.5,261.6 200.3,254 195,250 187.5,246.6 183.8,242.8 181.5,238"/>
<polygon fill="#2266ac" points="196,285 196.5,277.5 200.6,274 207.2,273.8 211.5,276 212,282 215,286 220,288 223,291 224,296 226,300 224,303 222,306 217,306.5 213,306 213,301 212,297 208,294 203,291 199,288"/>
<polygon fill="#2266ac" points="218.4,318.4 222.2,319.7 227.8,323.4 233.4,327.2 235.9,330 234.4,334.7 230.6,337 225,336.6 219.4,332.8 217.9,326.3"/>
<polygon fill="#cc3333" points="180,288 183.8,285 188.4,285 190.3,287 195,285 196,285 199,288 203,291 208,294 212,297 213,301 213,306 217,306.5 222,306 224,303 226,300 229,302 227,306 225,310 222,315 218.4,318.4 217.9,326.3 219.4,332.8 222,337 226,340 227,345 224,350 219,352 213,354 212,359 211,362 205,363 204,366 208,368 207,372 206,376 203,380 204,384 209,387 210,391 208,396 206.3,401 206.5,404.5 201,405 195,398 191,390 189,380 185,372 182,362 181,352 179,340 177,330 175,320 175,312 176,304 177,296 180,290"/>
<polygon fill="#cc3333" points="206.3,402.5 209.5,405.3 213.5,408.3 218,411.3 223,414.2 228.3,416.3 224.5,417 222.4,417.3 215.9,414 210.7,408.9 206.5,404.5"/>
<polygon fill="#cc3333" points="166.2,269.2 168.5,268.8 170,265 173.4,275.6 176.3,282 180,288 180,290 177,296 176,304 175,312 175,320 177,330 179,340 181,352 182,362 185,372 189,380 191,390 195,398 201,405 206.5,404.5 210.7,408.9 215.9,414 222.4,417.3 221,419.4 213,418 203.5,413.8 195,407.8 188,400 183,392 179,383 177.4,374 175,366 173,357 171,348 170,340 171,330 170,320 169,310 169,300 169,290 168,280 167,270"/>
<polygon fill="#cc3333" points="117,106.9 120,104.3 123,102.7 127,101.9 130.4,101.8 133.5,102.5 136.3,103.7 139.3,105.5 142.2,107.4 145.2,109.3 148.1,111.1 151,112.5 153.4,113.6 149.6,114.6 146.5,115.2 143.7,115.7 142.8,114 142.2,112.6 140.5,110.8 138.5,109.2 136,107.8 133.3,106.7 130.4,106 127.4,105.6 124.5,106 123.5,107.6 122.3,106.4 120,107.4"/>
<polygon fill="#d2dadd" stroke="#7f8c92" stroke-width="0.5" points="157.5,115 161.7,115 161.3,118.3 160.8,122.5 156,122.3 151.7,121.5 156,120.5 158.5,119.5 158,117"/>
<polygon fill="#cc3333" points="161.7,115 166.7,115.3 170.8,118 173.7,120.3 170,121.7 165.8,121.3 162.5,123.7 160.8,122.5 161.3,118.3"/>

<ellipse cx="159" cy="156" rx="1.7" ry="2.2" fill="#fff" stroke="none"/>
<ellipse cx="168.3" cy="260" rx="1.2" ry="1.9" fill="#f4f4f4" stroke="none" transform="rotate(-28 168.3 260)"/>
<ellipse cx="109.3" cy="148.3" rx="1.3" ry="1.1" fill="#fff" stroke="none"/>
<ellipse cx="240" cy="322" rx="0.9" ry="2.6" fill="#fff" stroke="none" transform="rotate(30 240 322)"/>
<ellipse cx="141.5" cy="122.1" rx="3.5" ry="1.2" fill="#d2dbde" stroke="#9aa" stroke-width="0.3"/>
<ellipse cx="180" cy="121.8" rx="3.2" ry="1" fill="#d2dbde" stroke="#9aa" stroke-width="0.3"/>
<path d="M209.3,170.4 L208.8,175.6 L207,180 L209.3,184.4 L209.8,187.1 M220.4,171.9 L219.6,177.8 L221.1,182.2 L221.8,185.4" fill="none" stroke="#444" stroke-width="0.55"/>
<path d="M226,202 L229,200.2 L231.2,198.6 L232.5,196.2 L234.5,193.6" fill="none" stroke="#1c1414" stroke-width="1.1" stroke-linecap="round"/>
<path d="M230.5,199.3 L232.8,196 L233.4,198.8 Z" fill="#1c1414" stroke="#1c1414" stroke-width="0.8"/>
<path d="M233.8,196.2 L240.3,197.3 L241.3,200 L237.7,204 L233.8,201.4 Z" fill="none" stroke="#2a1a1a" stroke-width="0.8" stroke-opacity="0.85"/>
<path d="M254.8,204.3 l0.8,2.6" fill="none" stroke="#1c1414" stroke-width="1"/>
<path d="M175.4,369.2 L177.0,370.4 L176.6,372.2 L177.9,373.6 L177.2,375.3 L178.6,376.8 L177.3,378.6 L179.1,380.0 L177.8,381.8 L179.5,383.1 L178.5,385.0 L180.2,386.0 L179.6,387.8 L181.6,388.6 L180.6,390.6 L182.4,391.5 L182.1,393.2 L184.0,393.8 L183.3,395.7 L184.9,396.4 L185.1,398.4 L186.7,399.4 L187.0,401.3 L188.8,401.9 L188.9,404.0 L190.9,404.3 L191.4,406.3 L193.6,406.1 L193.8,408.5 L196.0,408.3 L196.6,410.4 L198.6,410.5 L199.3,412.4 L201.3,412.4 L202.0,414.4 L204.1,414.0 L205.1,415.7 L207.0,415.5 L208.1,417.4 L210.2,416.6 L211.4,418.5 L213.0,417.6 L214.1,418.9 L215.6,418.0 L216.8,419.7 L218.4,418.3 " fill="none" stroke="#121212" stroke-width="1.05" stroke-opacity="0.9" stroke-linejoin="round"/>
<path d="M180.6,378.2 l-0.2,2.2 M180.9,382.7 l1.5,1.8 M182.3,386.7 l1.4,1.6 M184.0,390.7 l0.4,1.2 M186.3,394.3 l0.2,1.9 M188.1,398.4 l1.0,1.8 M191.4,401.8 l0.7,1.6 M195.0,404.5 l1.1,1.4 M198.0,408.5 l1.4,1.5 M202.7,410.2 l2.0,0.8 M206.4,413.3 l2.0,0.1 M210.8,415.1 l1.4,-0.0 M214.6,416.8 l2.1,-0.3 M218.5,417.0 l1.5,0.8 " fill="none" stroke="#121212" stroke-width="1.0" stroke-opacity="0.85" stroke-linecap="round"/>
<path d="M176.7,377.1 l0.2,1.1 M177.4,383.8 l0.3,1.1 M179.2,389.6 l0.4,1.0 M181.4,395.1 l0.5,1.0 M184.7,400.7 l0.6,0.9 M189.3,406.2 l0.8,0.7 M194.7,410.1 l0.9,0.7 M200.2,414.1 l0.9,0.6 M206.2,417.5 l1.0,0.4 M212.4,420.1 l1.1,0.2 M218.1,421.1 l1.1,0.1 " fill="none" stroke="#222" stroke-width="0.8" stroke-opacity="0.75" stroke-linecap="round"/>
<path d="M202.5,408.6 l2.4,1.4 M205.4,410.8 l2,1" fill="none" stroke="#dfe8ee" stroke-width="0.9" stroke-linecap="round"/>
<g fill="#cfd8db" stroke="#77848a" stroke-width="0.35" stroke-opacity="0.8">
<path d="M141.3,88.8 q1.2,-2.6 4,-2 q2.2,0.7 2,2.8" fill="none" stroke-width="0.7"/>
<ellipse cx="142.8" cy="96.3" rx="1" ry="2.2"/>
<path d="M148.5,93.5 l1,1.6 M150.8,97 l1.2,1.8 M152.8,100.5 l1.4,1.6 M155,103.6 l1.8,1.2 M158.2,105.6 l2.2,0.8 M161.8,107 l1.8,0.9 M156.5,110 l1.6,-0.8" fill="none" stroke-width="0.7"/>
<ellipse cx="128" cy="117.4" rx="0.9" ry="0.7"/>
<circle cx="185.6" cy="120.6" r="0.7"/><circle cx="187.6" cy="123.4" r="0.6"/>
<circle cx="192" cy="122.4" r="0.6"/><circle cx="194" cy="125" r="0.6"/><circle cx="195.8" cy="127.4" r="0.6"/>
<circle cx="196.7" cy="130.4" r="0.9" fill="#8f6f72"/><circle cx="198.1" cy="136.3" r="0.8" fill="#7f8d93"/><circle cx="197.4" cy="142.2" r="0.7"/><circle cx="202.6" cy="142.2" r="0.8" fill="#9aa7ad"/><circle cx="195.2" cy="146.7" r="0.8"/>
<ellipse cx="195.4" cy="152.4" rx="2.4" ry="1.4"/>
<circle cx="167.6" cy="145.8" r="0.6"/><circle cx="170.4" cy="146.2" r="0.6"/>
<circle cx="6.2" cy="78.2" r="0.7"/><circle cx="39.6" cy="108.4" r="0.6"/><circle cx="8.5" cy="57.5" r="0.5"/><circle cx="13.5" cy="80.5" r="0.5"/>
</g>
<ellipse cx="87" cy="197.5" rx="1.9" ry="1.7" fill="#2266ac" stroke="#333" stroke-width="0.4"/><circle cx="92.8" cy="199.4" r="0.6" fill="#2266ac" fill-opacity="0.35" stroke="none"/>
</g>
</g>
<g font-family="'Liberation Sans', sans-serif" font-weight="bold" font-size="38.4" fill="#000" stroke="#000" stroke-width="0.75" stroke-linejoin="round" style="font-kerning:none">
<g transform="translate(0,496.0) skewX(-9.3)">
<text x="97.6 122.8 148.3 173.4" y="0">2011</text>
<path fill="#fff" stroke="none" d="M148.8,-6h8.05v8h-8.05z M163,-6h8v8h-8z M173.9,-6h8.05v8h-8.05z M188.1,-6h8v8h-8z"/>
</g>
<g transform="translate(0,495.2) skewX(-9.3)">
<text x="424.6 449.8 475.3 500.5" y="0">2018</text>
<path fill="#fff" stroke="none" d="M475.8,-6h8.05v8h-8.05z M490,-6h8v8h-8z"/>
</g>
<g transform="translate(0,495.2) skewX(-9.3)">
<text x="768.2 793.6 818.4 843.6" y="0">2023</text>
</g>
</g>
</svg>
</body></html>
